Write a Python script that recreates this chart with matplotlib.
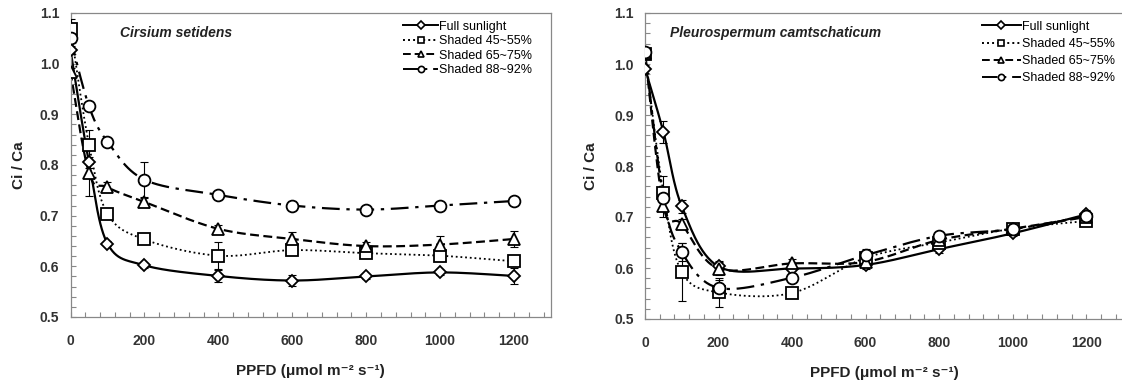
import numpy as np
import matplotlib
matplotlib.use("Agg")
import matplotlib.pyplot as plt
from matplotlib.lines import Line2D
from matplotlib.ticker import MultipleLocator, FormatStrFormatter

plt.rcParams['font.family'] = ['Liberation Sans', 'DejaVu Sans']

ppfd = [0, 50, 100, 200, 400, 600, 800, 1000, 1200]
labels = ["Full sunlight", "Shaded 45~55%", "Shaded 65~75%", "Shaded 88~92%"]

# Cirsium setidens
cs_full = [1.027, 0.805, 0.645, 0.602, 0.581, 0.572, 0.580, 0.588, 0.581]
cs_s50 = [1.069, 0.840, 0.704, 0.653, 0.621, 0.632, 0.626, 0.621, 0.610]
cs_s70 = [0.984, 0.784, 0.756, 0.727, 0.674, 0.654, 0.640, 0.643, 0.654]
cs_s90 = [1.050, 0.916, 0.846, 0.771, 0.741, 0.720, 0.712, 0.720, 0.729]
cs_full_err = [0.008, 0.010, 0.005, 0.005, 0.012, 0.010, 0.005, 0.005, 0.015]
cs_s50_err = [0.020, 0.030, 0.010, 0.008, 0.027, 0.010, 0.008, 0.010, 0.010]
cs_s70_err = [0.008, 0.045, 0.010, 0.008, 0.008, 0.013, 0.008, 0.016, 0.016]
cs_s90_err = [0.008, 0.008, 0.005, 0.034, 0.008, 0.008, 0.005, 0.005, 0.008]

# Pleurospermum camtschaticum
pc_full = [0.991, 0.867, 0.721, 0.603, 0.599, 0.606, 0.637, 0.668, 0.705]
pc_s50 = [1.019, 0.747, 0.592, 0.552, 0.551, 0.620, 0.650, 0.677, 0.692]
pc_s70 = [1.021, 0.722, 0.686, 0.599, 0.609, 0.612, 0.655, 0.677, 0.700]
pc_s90 = [1.023, 0.738, 0.631, 0.561, 0.581, 0.625, 0.663, 0.676, 0.702]
pc_full_err = [0.008, 0.021, 0.013, 0.010, 0.008, 0.008, 0.008, 0.005, 0.008]
pc_s50_err = [0.008, 0.033, 0.057, 0.028, 0.008, 0.008, 0.008, 0.008, 0.008]
pc_s70_err = [0.008, 0.022, 0.010, 0.012, 0.008, 0.008, 0.008, 0.005, 0.008]
pc_s90_err = [0.008, 0.008, 0.018, 0.015, 0.008, 0.012, 0.008, 0.005, 0.008]

styles = [
    dict(ls='-', marker='D', ms=6.5, lw=1.6),
    dict(ls=(0, (1, 1.6)), marker='s', ms=8.5, lw=1.3),
    dict(ls=(0, (4, 2)), marker='^', ms=8.5, lw=1.6),
    dict(ls=(0, (8, 3, 1.5, 3)), marker='o', ms=8.5, lw=1.6),
]


def smooth(x, y, n=30):
    pts = np.column_stack([x, y]).astype(float)
    P = np.vstack([pts[0], pts, pts[-1]])
    out = []
    t = np.linspace(0, 1, n)[:, None]
    for i in range(1, len(P) - 2):
        p0, p1, p2, p3 = P[i - 1], P[i], P[i + 1], P[i + 2]
        c1 = p1 + (p2 - p0) / 6
        c2 = p2 - (p3 - p1) / 6
        seg = (1 - t) ** 3 * p1 + 3 * (1 - t) ** 2 * t * c1 + 3 * (1 - t) * t ** 2 * c2 + t ** 3 * p2
        out.append(seg)
    return np.vstack(out)


fig = plt.figure(figsize=(11.22, 3.85), dpi=100)
axL = fig.add_axes([70.5 / 1122, 1 - 317 / 385, 480.5 / 1122, 304 / 385])
axR = fig.add_axes([645 / 1122, 1 - 319 / 385, 478 / 1122, 306 / 385])

panels = [
    (axL, "Cirsium setidens", [cs_full, cs_s50, cs_s70, cs_s90],
     [cs_full_err, cs_s50_err, cs_s70_err, cs_s90_err], 0.103, 0.692, 0.975, 0.2, 2.8, 10),
    (axR, "Pleurospermum camtschaticum", [pc_full, pc_s50, pc_s70, pc_s90],
     [pc_full_err, pc_s50_err, pc_s70_err, pc_s90_err], 0.052, 0.705, 0.975, 0.42, 3.1, 12),
]

for ax, title, series, errs, tx, lx, ly, lsp, hl, ylp in panels:
    for ys, es, st, lab in zip(series, errs, styles, labels):
        curve = smooth(ppfd, ys)
        ax.plot(curve[:, 0], curve[:, 1], color='black', ls=st['ls'], lw=st['lw'], zorder=2)
        ax.errorbar(ppfd, ys, yerr=es, fmt='none', ecolor='black', elinewidth=0.8,
                    capsize=3, capthick=0.8, zorder=3)
        ax.plot(ppfd, ys, ls='none', marker=st['marker'], ms=st['ms'], mfc='white',
                mec='black', mew=1.3, zorder=4)
    ax.set_xlim(0, 1300)
    ax.set_ylim(0.5, 1.1)
    ax.xaxis.set_major_locator(MultipleLocator(200))
    ax.xaxis.set_minor_locator(MultipleLocator(40))
    ax.yaxis.set_major_locator(MultipleLocator(0.1))
    ax.yaxis.set_minor_locator(MultipleLocator(0.02))
    ax.yaxis.set_major_formatter(FormatStrFormatter('%.1f'))
    ax.set_xticks([0, 200, 400, 600, 800, 1000, 1200])
    ax.tick_params(which='both', direction='in', length=3.5, width=0.8, color='#888888')
    ax.tick_params(which='major', labelsize=10, labelcolor='#333333', pad=12)
    ax.tick_params(axis='y', which='major', pad=8)
    for lab in ax.get_xticklabels() + ax.get_yticklabels():
        lab.set_fontweight('bold')
    for sp in ax.spines.values():
        sp.set_color('#888888')
        sp.set_linewidth(0.9)
    ax.set_xlabel("PPFD (\u03bcmol m\u207b\u00b2 s\u207b\u00b9)", fontsize=11, fontweight='bold',
                  color='#222222', labelpad=12)
    ax.set_ylabel("Ci / Ca", fontsize=11, fontweight='bold', color='#222222', labelpad=ylp)
    ax.text(tx, 0.934, title, transform=ax.transAxes, fontsize=10, fontweight='bold',
            style='italic', va='center', ha='left', color='#222222')
    handles = [Line2D([], [], color='black', ls=st['ls'], lw=1.4, marker=st['marker'],
                      ms=4.5, mfc='white', mec='black', mew=1.2) for st in styles]
    ax.legend(handles, labels, loc='upper left', bbox_to_anchor=(lx, ly), frameon=False,
              fontsize=9, handlelength=hl, handletextpad=0.1, labelspacing=lsp,
              borderpad=0, borderaxespad=0)

fig.savefig("out.png", dpi=100)
